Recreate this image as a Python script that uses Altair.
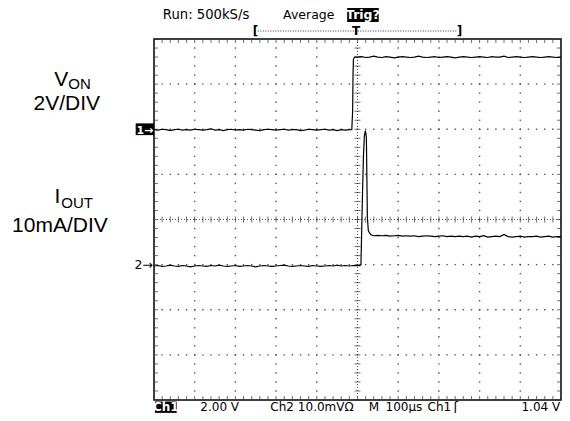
import altair as alt
import pandas as pd
import numpy as np

# ---- trace data: time in µs (100 µs/div, trigger at 0), level in screen divisions ----
ch1_low_t = list(range(-500, -10, 10))
ch1_low_v = [1.99, 1.98, 2.00, 1.99, 1.97, 1.99, 2.00, 1.98, 1.99, 1.98,
             2.00, 1.99, 1.98, 1.99, 2.01, 1.98, 1.99, 1.97, 1.99, 2.00,
             1.98, 1.99, 1.98, 2.00, 1.99, 1.98, 1.97, 1.99, 2.00, 1.99,
             1.98, 1.99, 2.00, 1.98, 1.99, 1.99, 1.97, 1.98, 2.00, 1.99,
             1.98, 1.99, 2.00, 1.98, 1.99, 1.97, 1.99, 1.98, 1.99]
ch1_edge_t = [-14, -12, -11, -10, -7]
ch1_edge_v = [1.99, 2.40, 3.20, 3.55, 3.60]
ch1_high_t = list(range(0, 501, 10))
ch1_high_v = [3.60, 3.61, 3.59, 3.60, 3.62, 3.60, 3.59, 3.61, 3.60, 3.58,
              3.60, 3.61, 3.60, 3.59, 3.60, 3.62, 3.60, 3.59, 3.60, 3.61,
              3.59, 3.60, 3.61, 3.60, 3.58, 3.60, 3.61, 3.60, 3.59, 3.60,
              3.61, 3.60, 3.59, 3.61, 3.60, 3.60, 3.62, 3.59, 3.60, 3.61,
              3.60, 3.59, 3.60, 3.61, 3.60, 3.59, 3.60, 3.61, 3.60, 3.59,
              3.60]

ch2_low_t = list(range(-500, 1, 10))
ch2_low_v = [-1.03, -1.02, -1.04, -1.03, -1.01, -1.03, -1.04, -1.02, -1.03, -1.05,
             -1.03, -1.02, -1.03, -1.04, -1.02, -1.03, -1.01, -1.03, -1.04, -1.03,
             -1.02, -1.04, -1.03, -1.02, -1.03, -1.05, -1.03, -1.02, -1.03, -1.04,
             -1.03, -1.02, -1.01, -1.03, -1.04, -1.03, -1.02, -1.03, -1.04, -1.02,
             -1.03, -1.04, -1.03, -1.02, -1.03, -1.01, -1.03, -1.02, -1.03, -1.02,
             -1.02]
ch2_edge_t = [5, 8.5, 9.7, 12.1, 14.5, 16.9, 19.4, 21.8, 23.0, 24.2, 26.6, 32.7, 40]
ch2_edge_v = [-1.02, -1.00, -0.49, 0.50, 1.38, 1.86, 1.97, 1.82, 0.94, 0.06, -0.25, -0.34, -0.36]
ch2_high_t = list(range(50, 501, 10))
ch2_high_v = [-0.35, -0.36, -0.35, -0.37, -0.36, -0.35, -0.37, -0.36, -0.37, -0.36,
              -0.38, -0.37, -0.36, -0.37, -0.38, -0.37, -0.36, -0.38, -0.37, -0.38,
              -0.37, -0.38, -0.37, -0.39, -0.37, -0.38, -0.36, -0.39, -0.38, -0.37,
              -0.38, -0.33, -0.38, -0.39, -0.38, -0.37, -0.39, -0.38, -0.38, -0.37,
              -0.39, -0.38, -0.37, -0.39, -0.38, -0.38]

# ---- graticule ----
major_t = [-400, -300, -200, -100, 100, 200, 300, 400]
major_d = [-3, -2, -1, 1, 2, 3]
minor_t = [float(v) for v in np.arange(-500, 501, 20)]
minor_d = [float(v) for v in np.round(np.arange(-4, 4.001, 0.2), 2)]

xs = alt.Scale(domain=[-500, 500], nice=False, zero=False)
ys = alt.Scale(domain=[-4, 4], nice=False, zero=False)
X = lambda f="t": alt.X(f"{f}:Q", scale=xs, axis=None)
Y = lambda f="d": alt.Y(f"{f}:Q", scale=ys, axis=None)

def trace_df(name, parts):
    rows = []
    for ts, vs in parts:
        rows += [{"t": t, "d": v, "ch": name} for t, v in zip(ts, vs)]
    return pd.DataFrame(rows)

ch1 = trace_df("Ch1", [(ch1_low_t, ch1_low_v), (ch1_edge_t, ch1_edge_v), (ch1_high_t, ch1_high_v)])
ch2 = trace_df("Ch2", [(ch2_low_t, ch2_low_v), (ch2_edge_t, ch2_edge_v), (ch2_high_t, ch2_high_v)])

dots = pd.DataFrame([{"t": t, "d": d} for t in major_t for d in minor_d] +
                    [{"t": t, "d": d} for d in major_d for t in minor_t])

layers = []
layers.append(alt.Chart(dots).mark_square(size=2, color="#444", opacity=0.9).encode(x=X(), y=Y()))

# centre cross (densely dotted)
layers.append(alt.Chart(pd.DataFrame({"t": [0], "d": [-4], "d2": [4]})).mark_rule(
    color="#555", strokeDash=[1, 2], strokeWidth=1).encode(x=X(), y=Y(), y2="d2:Q"))
layers.append(alt.Chart(pd.DataFrame({"t": [-500], "t2": [500], "d": [0]})).mark_rule(
    color="#555", strokeDash=[1, 2], strokeWidth=1).encode(x=X(), x2="t2:Q", y=Y()))

# ticks on centre lines
layers.append(alt.Chart(pd.DataFrame({"t": minor_t, "d": 0})).mark_tick(
    orient="vertical", size=6, thickness=1, color="#333").encode(x=X(), y=Y()))
layers.append(alt.Chart(pd.DataFrame({"t": 0, "d": minor_d})).mark_tick(
    orient="horizontal", size=6, thickness=1, color="#333").encode(x=X(), y=Y()))
# ticks on border
bt = pd.DataFrame([{"t": t, "d": d} for t in minor_t for d in (-4, 4)])
bd = pd.DataFrame([{"t": t, "d": d} for d in minor_d for t in (-500, 500)])
layers.append(alt.Chart(bt).mark_tick(orient="vertical", size=8, thickness=1, color="#333",
                                      clip=True).encode(x=X(), y=Y()))
layers.append(alt.Chart(bd).mark_tick(orient="horizontal", size=8, thickness=1, color="#333",
                                      clip=True).encode(x=X(), y=Y()))

# traces
for df in (ch1, ch2):
    layers.append(alt.Chart(df).mark_line(color="black", strokeWidth=1.2).encode(
        x=X(), y=Y(), order="t:Q"))

# black boxes (Trig?, Ch1 readout, channel-1 marker)
boxes = pd.DataFrame({"t": [-25.4, -497.6, -545.0], "t2": [52.1, -444.3, -500.0],
                      "d": [4.687, -4.033, 2.13], "d2": [4.377, -4.285, 1.87]})
layers.append(alt.Chart(boxes).mark_rect(color="black").encode(x=X(), x2="t2:Q", y=Y(), y2="d2:Q"))

# acquisition bar
layers.append(alt.Chart(pd.DataFrame({"t": [-245], "t2": [245], "d": [4.177]})).mark_rule(
    color="#333", strokeDash=[1, 1.5], strokeWidth=1).encode(x=X(), x2="t2:Q", y=Y()))

def text_layer(rows, **mk):
    df = pd.DataFrame(rows, columns=["t", "d", "text"])
    return alt.Chart(df).mark_text(baseline="alphabetic", **mk).encode(x=X(), y=Y(), text="text:N")

TOP, BOT = 4.443, -4.233
scope = dict(font="DejaVu Sans", color="black")
layers.append(text_layer([(-478.2, TOP, "Run: 500kS/s")], align="left", fontSize=13.2, **scope))
layers.append(text_layer([(-182.8, TOP, "Average")], align="left", fontSize=12.5, **scope))
layers.append(text_layer([(-386.2, BOT, "2.00 V"), (-214.3, BOT, "Ch2"),
                          (-146.5, BOT, "10.0mVΩ"), (27.8, BOT, "M"),
                          (69.0, BOT, "100µs"), (172.0, BOT, "Ch1")],
                         align="left", fontSize=12, **scope))
layers.append(text_layer([(236.0, BOT, "ʃ")], align="left", fontSize=13, **scope))
layers.append(text_layer([(498.0, BOT, "1.04 V")], align="right", fontSize=12, **scope))
layers.append(text_layer([(-502.4, -1.10, "2→")], align="right", fontSize=12.5, **scope))
layers.append(text_layer([(13.3, TOP, "Trig?")], align="center",
                         font="DejaVu Sans", fontSize=12.5, fontWeight="bold", color="white"))
layers.append(text_layer([(-471.0, BOT, "Ch1")], align="center",
                         font="DejaVu Sans", fontSize=12, fontWeight="bold", color="white"))
layers.append(text_layer([(-522.5, 1.89, "1→")], align="center",
                         font="DejaVu Sans", fontSize=11, fontWeight="bold", color="white"))
layers.append(alt.Chart(pd.DataFrame({"t": [-250.6, 250.6, -3.6], "d": [4.177] * 3,
                                      "text": ["[", "]", "T"]})).mark_text(
    baseline="middle", align="center", font="DejaVu Sans", fontSize=12, fontWeight="bold",
    color="black").encode(x=X(), y=Y(), text="text:N"))

# channel labels on the left
lab = dict(font="Liberation Sans", color="black")
layers.append(text_layer([(-710.4, 2.958, "V"), (-730.0, 0.366, "I")], align="right", fontSize=21, **lab))
layers.append(text_layer([(-710.4, 2.892, "ON"), (-727.6, 0.255, "OUT")], align="left", fontSize=15, **lab))
layers.append(text_layer([(-714.3, 2.427, "2V/DIV"), (-731.2, -0.277, "10mA/DIV")], align="center",
                         fontSize=21, **lab))

chart = alt.layer(*layers).properties(
    width=407, height=361,
    autosize=alt.AutoSizeParams(type="none"),
    padding={"left": 146, "top": 31, "right": 1, "bottom": 13},
    background="white",
).configure_view(stroke="black", strokeWidth=1.5)

chart.save("out.html", embed_options={"renderer": "svg", "actions": False})
